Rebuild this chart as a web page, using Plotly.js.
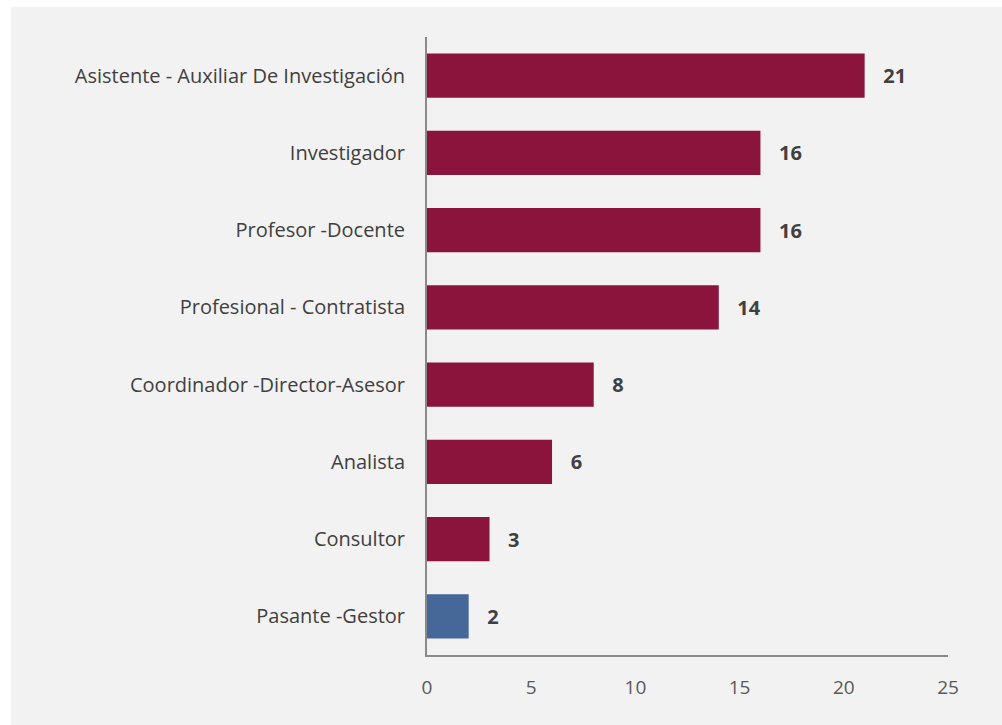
<!DOCTYPE html>
<html>
<head>
<meta charset="utf-8">
<script src="https://cdn.plot.ly/plotly-3.0.1.min.js"></script>
<style>
html,body{margin:0;padding:0;background:#ffffff;}
#chart{position:absolute;left:11px;top:7px;width:991px;height:718px;}
</style>
</head>
<body>
<div id="chart"></div>
<script>
const categories = [
  "Asistente - Auxiliar De Investigación",
  "Investigador",
  "Profesor -Docente",
  "Profesional - Contratista",
  "Coordinador -Director-Asesor",
  "Analista",
  "Consultor",
  "Pasante -Gestor"
];
const values = [21, 16, 16, 14, 8, 6, 3, 2];
const barColors = ["#8B143D","#8B143D","#8B143D","#8B143D","#8B143D","#8B143D","#8B143D","#46679A"];
const tickVals = [0, 5, 10, 15, 20, 25];

const trace = {
  type: "bar",
  orientation: "h",
  y: categories,
  x: values,
  marker: {color: barColors},
  width: 0.57,
  text: values.map(v => "\u00a0\u00a0\u00a0<b>" + v + "</b>"),
  textposition: "outside",
  cliponaxis: false,
  textfont: {family: "Open Sans, sans-serif", size: 20, color: "#404040"},
  hoverinfo: "none"
};

const layout = {
  width: 991, height: 718,
  paper_bgcolor: "#f2f2f2",
  plot_bgcolor: "#f2f2f2",
  margin: {l: 416, r: 54, t: 30, b: 70, pad: 0},
  showlegend: false,
  xaxis: {
    range: [0, 25],
    tickvals: tickVals,
    ticktext: tickVals.map(String),
    showgrid: false,
    zeroline: false,
    showline: true,
    linecolor: "#898989",
    linewidth: 2,
    ticks: "",
    ticklen: 0,
    ticklabelstandoff: 14,
    tickfont: {family: "Open Sans, sans-serif", size: 19, color: "#595959"},
    fixedrange: true
  },
  yaxis: {
    autorange: "reversed",
    type: "category",
    showgrid: false,
    zeroline: false,
    showline: true,
    linecolor: "#898989",
    linewidth: 2,
    ticks: "",
    ticklen: 0,
    ticklabelstandoff: 16,
    tickfont: {family: "Open Sans, sans-serif", size: 20, color: "#404040"},
    fixedrange: true
  }
};

Plotly.newPlot("chart", [trace], layout, {displayModeBar: false, staticPlot: true});
</script>
</body>
</html>
